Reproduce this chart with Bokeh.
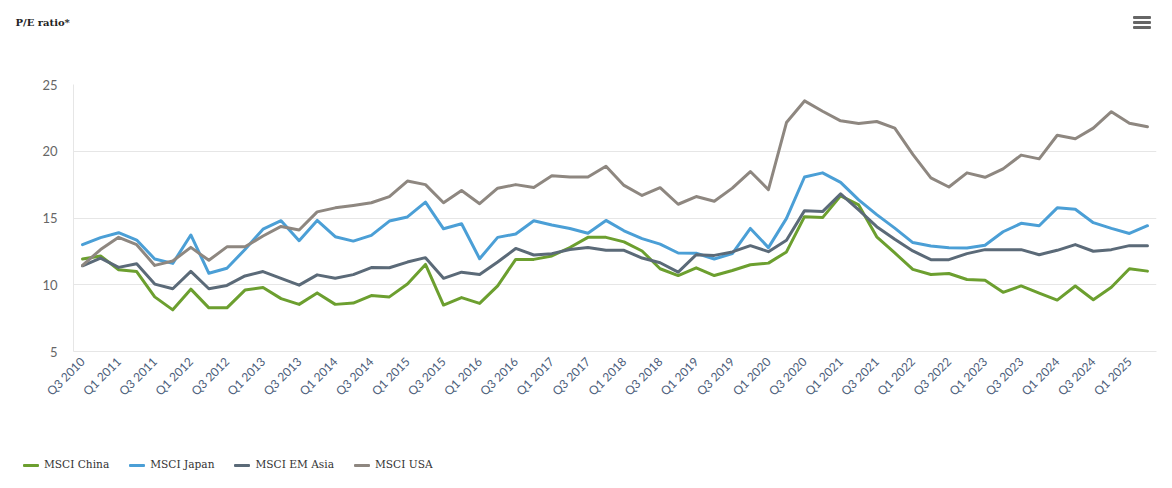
from math import pi
from bokeh.plotting import figure
from bokeh.layouts import column
from bokeh.models import Range1d, FixedTicker, Div
from bokeh.embed import file_html
from bokeh.resources import INLINE

quarters = [
    "Q3 2010", "Q4 2010", "Q1 2011", "Q2 2011", "Q3 2011", "Q4 2011",
    "Q1 2012", "Q2 2012", "Q3 2012", "Q4 2012", "Q1 2013", "Q2 2013",
    "Q3 2013", "Q4 2013", "Q1 2014", "Q2 2014", "Q3 2014", "Q4 2014",
    "Q1 2015", "Q2 2015", "Q3 2015", "Q4 2015", "Q1 2016", "Q2 2016",
    "Q3 2016", "Q4 2016", "Q1 2017", "Q2 2017", "Q3 2017", "Q4 2017",
    "Q1 2018", "Q2 2018", "Q3 2018", "Q4 2018", "Q1 2019", "Q2 2019",
    "Q3 2019", "Q4 2019", "Q1 2020", "Q2 2020", "Q3 2020", "Q4 2020",
    "Q1 2021", "Q2 2021", "Q3 2021", "Q4 2021", "Q1 2022", "Q2 2022",
    "Q3 2022", "Q4 2022", "Q1 2023", "Q2 2023", "Q3 2023", "Q4 2023",
    "Q1 2024", "Q2 2024", "Q3 2024", "Q4 2024", "Q1 2025", "Q2 2025",
]

msci_china = [
    11.93, 12.16, 11.12, 10.99, 9.09, 8.12, 9.67, 8.27, 8.27, 9.60, 9.80, 8.96,
    8.53, 9.39, 8.53, 8.63, 9.19, 9.09, 10.05, 11.52, 8.48, 9.04, 8.60, 9.92,
    11.90, 11.90, 12.16, 12.79, 13.55, 13.55, 13.21, 12.53, 11.20, 10.69, 11.27, 10.69,
    11.07, 11.50, 11.62, 12.46, 15.10, 15.03, 16.66, 15.98, 13.59, 12.38, 11.15, 10.77,
    10.84, 10.39, 10.33, 9.43, 9.91, 9.38, 8.85, 9.91, 8.88, 9.81, 11.20, 11.02,
]

msci_japan = [
    13.00, 13.53, 13.90, 13.35, 11.93, 11.60, 13.73, 10.86, 11.24, 12.64, 14.16, 14.80,
    13.30, 14.82, 13.60, 13.27, 13.70, 14.77, 15.08, 16.19, 14.19, 14.57, 11.95, 13.55,
    13.80, 14.80, 14.47, 14.21, 13.86, 14.82, 14.04, 13.46, 13.04, 12.38, 12.36, 11.93,
    12.33, 14.22, 12.78, 14.97, 18.07, 18.38, 17.67, 16.36, 15.25, 14.24, 13.16, 12.91,
    12.78, 12.76, 12.96, 13.97, 14.60, 14.42, 15.76, 15.65, 14.65, 14.22, 13.84, 14.42,
]

msci_em_asia = [
    11.42, 12.00, 11.30, 11.57, 10.05, 9.70, 11.00, 9.70, 9.95, 10.66, 10.99, 10.48,
    9.97, 10.74, 10.48, 10.76, 11.29, 11.27, 11.70, 12.03, 10.48, 10.94, 10.76, 11.70,
    12.72, 12.23, 12.33, 12.64, 12.79, 12.59, 12.58, 12.00, 11.65, 10.94, 12.25, 12.20,
    12.46, 12.93, 12.48, 13.34, 15.55, 15.48, 16.81, 15.60, 14.35, 13.41, 12.53, 11.88,
    11.88, 12.33, 12.63, 12.63, 12.63, 12.25, 12.58, 13.01, 12.51, 12.63, 12.93, 12.93,
]

msci_usa = [
    11.45, 12.64, 13.55, 13.00, 11.45, 11.78, 12.80, 11.83, 12.84, 12.84, 13.65, 14.37,
    14.10, 15.46, 15.76, 15.94, 16.14, 16.60, 17.77, 17.50, 16.14, 17.06, 16.07, 17.23,
    17.50, 17.28, 18.17, 18.07, 18.07, 18.88, 17.44, 16.69, 17.27, 16.03, 16.61, 16.26,
    17.24, 18.48, 17.12, 22.15, 23.77, 23.00, 22.28, 22.08, 22.23, 21.73, 19.76, 18.00,
    17.32, 18.38, 18.05, 18.68, 19.71, 19.43, 21.20, 20.94, 21.73, 22.96, 22.10, 21.83,
]

y_ticks = [5, 10, 15, 20, 25]

series_names = ["MSCI China", "MSCI Japan", "MSCI EM Asia", "MSCI USA"]
series_colors = ["#6C9F2F", "#4B9FD6", "#5B6A78", "#8E8780"]
series_values = [msci_china, msci_japan, msci_em_asia, msci_usa]

chart_title = "P/E ratio*"

TOTAL_W = 1164
CHART_H = 450
LEG_H = 30

xs = list(range(len(quarters)))

p = figure(
    frame_width=1083, frame_height=267,
    min_border_left=73, min_border_right=8, min_border_top=84,
    min_border_bottom=CHART_H - 84 - 267,
    x_range=Range1d(-0.5, len(quarters) - 0.5), y_range=Range1d(5, 25),
    output_backend="svg", toolbar_location=None,
)
p.outline_line_color = None
p.background_fill_color = "white"
p.border_fill_color = "white"

# title: first line of a tall text block so that it sits near the top of the page
p.title.text = chart_title + "\n\n\n\n\n"
p.title.align = "left"
p.title.offset = -58
p.title.standoff = 0
p.title.vertical_align = "top"
p.title.text_font = "DejaVu Serif"
p.title.text_font_size = "10px"
p.title.text_font_style = "bold"
p.title.text_color = "#222222"

p.xgrid.grid_line_color = None
p.ygrid.grid_line_color = "#e6e6e6"
p.ygrid.grid_line_width = 1

p.yaxis.ticker = FixedTicker(ticks=y_ticks)
p.yaxis.axis_line_color = "#e6e6e6"
p.yaxis.major_tick_line_color = None
p.yaxis.minor_tick_line_color = None
p.yaxis.major_tick_out = 0
p.yaxis.major_label_standoff = 16
p.yaxis.major_label_text_font = "Lato"
p.yaxis.major_label_text_font_size = "13px"
p.yaxis.major_label_text_color = "#666666"

tick_idx = xs[::2]
p.xaxis.ticker = FixedTicker(ticks=tick_idx)
p.xaxis.major_label_overrides = {i: quarters[i] for i in tick_idx}
p.xaxis.major_label_orientation = pi / 4
p.xaxis.axis_line_color = "#e6e6e6"
p.xaxis.major_tick_line_color = None
p.xaxis.minor_tick_line_color = None
p.xaxis.major_tick_out = 0
p.xaxis.major_tick_in = 0
p.xaxis.major_label_standoff = 8
p.xaxis.major_label_text_font = "Lato"
p.xaxis.major_label_text_font_size = "12px"
p.xaxis.major_label_text_color = "#4B5D7A"

for name, col, vals in zip(series_names, series_colors, series_values):
    p.line(xs, vals, line_color=col, line_width=3, line_join="round", line_cap="round")

# legend strip below the chart (swatch + label for each series)
parts = []
for k, (name, col) in enumerate(zip(series_names, series_colors)):
    ml = 0 if k == 0 else 20
    parts.append(
        f'<span style="display:inline-block;width:16px;height:3px;background:{col};'
        f'margin-left:{ml}px;margin-right:5px;border-radius:1px;"></span>'
        f'<span style="white-space:nowrap;">{name}</span>'
    )
menu = "".join(
    f'<span style="position:absolute;left:1133px;top:{t - CHART_H}px;width:18px;'
    f'height:2.5px;background:#666666;border-radius:1px;"></span>'
    for t in (16, 21, 26)
)
legend_html = (
    f'<div style="position:relative;display:flex;align-items:center;height:{LEG_H}px;'
    f'padding-left:23px;font-family:\'DejaVu Serif\';font-size:10.6px;color:#333333;">'
    + "".join(parts) + menu + "</div>"
)
leg = Div(text=legend_html, width=TOTAL_W, height=LEG_H, margin=0,
          styles={"overflow": "visible"})

layout = column(p, leg, spacing=0)
open("out.html", "w").write(file_html(layout, INLINE))
